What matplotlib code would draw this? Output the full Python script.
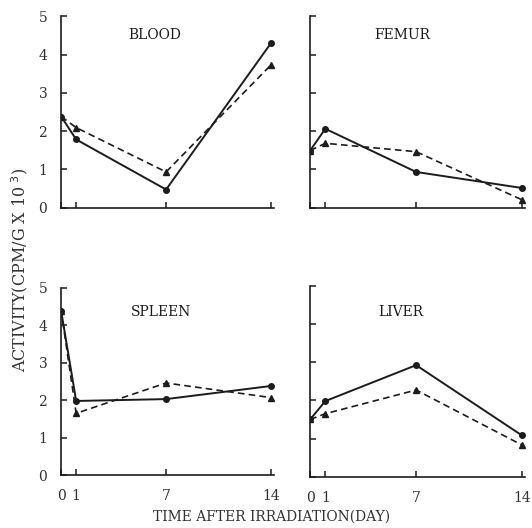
import matplotlib.pyplot as plt

days = [0, 1, 7, 14]

# activity (cpm/g x 10^3), solid = circles, dashed = triangles
blood_solid = [2.38, 1.78, 0.47, 4.30]
blood_dash = [2.38, 2.09, 0.93, 3.73]
femur_solid = [1.49, 2.06, 0.93, 0.51]
femur_dash = [1.49, 1.68, 1.46, 0.20]
spleen_solid = [4.38, 1.98, 2.03, 2.38]
spleen_dash = [4.38, 1.65, 2.46, 2.07]
liver_solid = [1.50, 1.98, 2.92, 1.08]
liver_dash = [1.50, 1.65, 2.27, 0.83]

ink = '#1c1c1c'
plt.rcParams['font.family'] = ['DejaVu Serif']

fig = plt.figure(figsize=(5.32, 5.28), dpi=100)

panels = [
    ('BLOOD', blood_solid, blood_dash, [0.115, 0.607, 0.400, 0.362], True, False, 0.44, 0.905),
    ('FEMUR', femur_solid, femur_dash, [0.583, 0.607, 0.404, 0.362], False, False, 0.43, 0.905),
    ('SPLEEN', spleen_solid, spleen_dash, [0.115, 0.100, 0.400, 0.355], True, True, 0.47, 0.87),
    ('LIVER', liver_solid, liver_dash, [0.583, 0.097, 0.404, 0.362], False, True, 0.42, 0.86),
]

for name, solid, dash, rect, ylab, xlab, tx, ty in panels:
    ax = fig.add_axes(rect)
    ax.plot(days, solid, '-', color=ink, lw=1.4, marker='o', ms=4)
    ax.plot(days, dash, '--', color=ink, lw=1.2, marker='^', ms=4,
            dashes=(4, 2.5))
    ax.set_xlim(0, 14.2)
    ax.set_ylim(0, 5)
    ax.set_xticks(days)
    ax.set_yticks(range(6))
    for s in ['top', 'right']:
        ax.spines[s].set_visible(False)
    for s in ['left', 'bottom']:
        ax.spines[s].set_color(ink)
        ax.spines[s].set_linewidth(1.2)
    ax.tick_params(direction='in', length=4, width=1.1, color=ink,
                   labelcolor='#333333', labelsize=10, pad=10)
    if not ylab:
        ax.set_yticklabels([])
    if not xlab:
        ax.set_xticklabels([])
    ax.text(tx, ty, name, transform=ax.transAxes, ha='center', va='center',
            fontsize=10, color=ink)

fig.text(0.036, 0.489, 'ACTIVITY(CPM/G X 10$^{\\ 3}$)', rotation=90,
         ha='center', va='center', fontsize=11.5, color='#333333')
fig.text(0.51, 0.021, 'TIME AFTER IRRADIATION(DAY)', ha='center', va='center',
         fontsize=10, color='#333333')

fig.savefig('out.png', dpi=100)
